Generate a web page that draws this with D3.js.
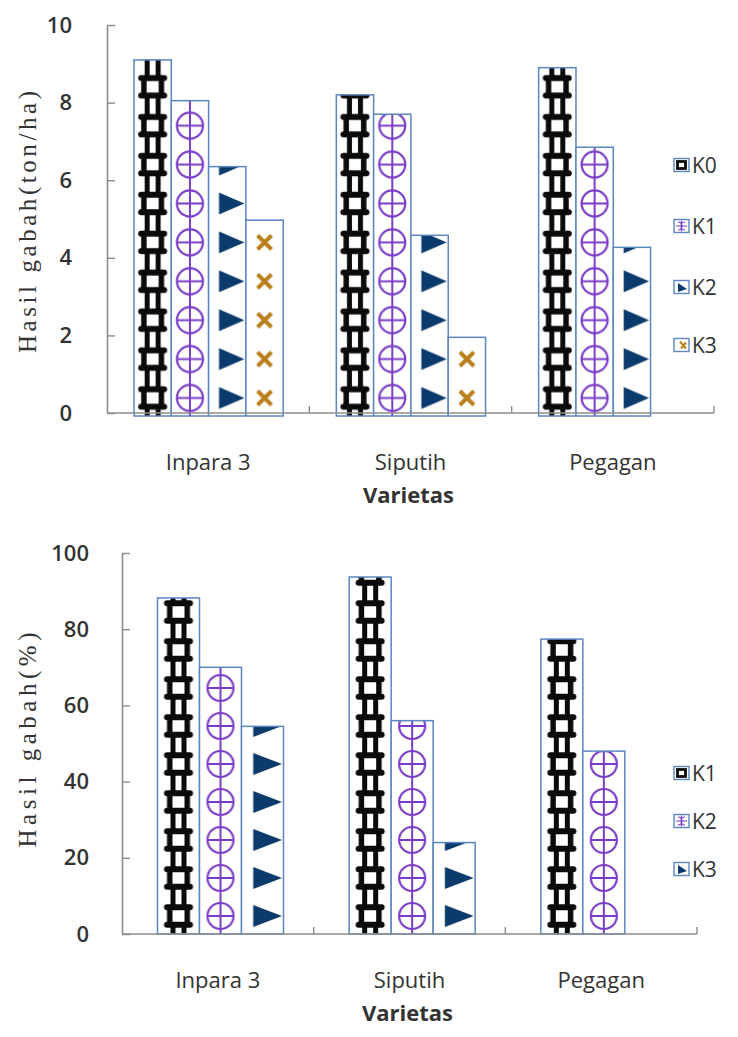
<!DOCTYPE html>
<html>
<head>
<meta charset="utf-8">
<script src="https://cdn.jsdelivr.net/npm/d3@7"></script>
<style>
  html, body { margin: 0; padding: 0; background: #ffffff; }
  svg { display: block; }
</style>
</head>
<body>
<svg id="chart" width="738" height="1037"></svg>
<script>
// Varieties on the x axis
const varietas = ["Inpara 3", "Siputih", "Pegagan"];

// Upper chart: grain yield (ton/ha) per treatment
const seriesTon = ["K0", "K1", "K2", "K3"];
const k0Ton = [9.1, 8.2, 8.9];
const k1Ton = [8.05, 7.7, 6.85];
const k2Ton = [6.35, 4.58, 4.27];
const k3Ton = [4.97, 1.95, null];
const ticksTon = [0, 2, 4, 6, 8, 10];

// Lower chart: grain yield (%) per treatment
const seriesPct = ["K1", "K2", "K3"];
const k1Pct = [88.2, 93.7, 77.4];
const k2Pct = [70.0, 56.0, 48.0];
const k3Pct = [54.5, 24.0, null];
const ticksPct = [0, 20, 40, 60, 80, 100];

const svg = d3.select("#chart");
const defs = svg.append("defs");

const COL = {
  black: "#0a0a0a",
  purple: "#7a3cc8",
  navy: "#0b3a6c",
  orange: "#b97f1c",
  barEdge: "#5b86c0",
  axis: "#8c8c8c",
  text: "#333333"
};

// ---- motif painters (draw one tile of width w, height h) ----
const motifs = {
  // chain of hollow black squares with knobbed corners
  ladder(g, w, h) {
    const cx = w / 2, cy = h / 2, s = 8.75;
    // short double link between consecutive squares
    [cx - 5.5, cx + 5.5].forEach(x => {
      g.append("line").attr("x1", x).attr("x2", x).attr("y1", cy + s).attr("y2", h + 1)
        .attr("stroke", COL.black).attr("stroke-width", 5);
      g.append("line").attr("x1", x).attr("x2", x).attr("y1", -1).attr("y2", cy - s)
        .attr("stroke", COL.black).attr("stroke-width", 5);
    });
    // square frame
    [cx - s, cx + s].forEach(x =>
      g.append("line").attr("x1", x).attr("x2", x).attr("y1", cy - s - 2).attr("y2", cy + s + 2)
        .attr("stroke", COL.black).attr("stroke-width", 5.5));
    [cy - s, cy + s].forEach(y =>
      g.append("line").attr("x1", cx - 11.5).attr("x2", cx + 11.5).attr("y1", y).attr("y2", y)
        .attr("stroke", COL.black).attr("stroke-width", 6).attr("stroke-linecap", "round"));
  },
  target(g, w, h) {
    const cx = w / 2, cy = h / 2, r = 13;
    g.append("line").attr("x1", cx).attr("x2", cx).attr("y1", 0).attr("y2", h)
      .attr("stroke", COL.purple).attr("stroke-width", 2);
    g.append("line").attr("x1", cx - r).attr("x2", cx + r).attr("y1", cy).attr("y2", cy)
      .attr("stroke", COL.purple).attr("stroke-width", 2);
    g.append("circle").attr("cx", cx).attr("cy", cy).attr("r", r)
      .attr("fill", "none").attr("stroke", COL.purple).attr("stroke-width", 2.2);
  },
  arrow(g, w, h) {
    const cy = h / 2;
    g.append("path")
      .attr("d", `M${w * 0.28},${cy - 11}L${w - 1.5},${cy}L${w * 0.28},${cy + 11}Z`)
      .attr("fill", COL.navy);
  },
  cross(g, w, h) {
    const cx = w / 2, cy = h / 2, s = 7;
    g.append("path")
      .attr("d", `M${cx - s},${cy - s}L${cx + s},${cy + s}M${cx + s},${cy - s}L${cx - s},${cy + s}`)
      .attr("stroke", COL.orange).attr("stroke-width", 4).attr("fill", "none");
  }
};

// small legend swatches
const swatches = {
  ladder(g) {
    g.append("rect").attr("x", 3.5).attr("y", 3).attr("width", 8).attr("height", 7)
      .attr("fill", "none").attr("stroke", COL.black).attr("stroke-width", 2.8);
  },
  target(g) {
    g.append("path").attr("d", "M4,2.5A3.5,3.5 0 0 1 4,10.5M11,2.5A3.5,3.5 0 0 0 11,10.5M7.5,1V12M2,6.5H13")
      .attr("fill", "none").attr("stroke", COL.purple).attr("stroke-width", 1.2);
  },
  arrow(g) {
    g.append("path").attr("d", "M4,2.5L13,8.5L4,11.5Z").attr("fill", COL.navy);
  },
  cross(g) {
    g.append("path").attr("d", "M6,3L12,10M12,4L7,10").attr("stroke", COL.orange)
      .attr("stroke-width", 2).attr("fill", "none");
  }
};

let patId = 0;

function drawChart(cfg) {
  const g = svg.append("g");
  const y = d3.scaleLinear().domain([0, cfg.yMax]).range([cfg.baseline, cfg.top]);
  const x0 = d3.scaleBand().domain(varietas).range([cfg.left, cfg.right]).padding(0);
  const x1 = d3.scaleBand().domain(cfg.keys)
    .range([cfg.innerStart, cfg.innerStart + cfg.keys.length * cfg.barW]).padding(0);

  // axes
  const yAxis = g.append("g").attr("transform", `translate(${cfg.left},0)`)
    .call(d3.axisLeft(y).tickValues(cfg.ticks).tickSize(-8).tickPadding(cfg.labelGap).tickSizeOuter(0));
  yAxis.select(".domain").attr("stroke", COL.axis).attr("stroke-width", 1.6);
  yAxis.selectAll(".tick line").attr("stroke", COL.axis).attr("stroke-width", 1.4);
  yAxis.selectAll(".tick text")
    .attr("fill", COL.text).attr("font-family", "'Open Sans', sans-serif")
    .attr("font-size", 22).attr("font-weight", 600);

  // bars
  cfg.keys.forEach((key, si) => {
    const values = cfg.values[si];
    varietas.forEach((v, ci) => {
      const val = values[ci];
      if (val === null || val === undefined) return;
      const bx = x0(v) + x1(key);
      const bw = x1.bandwidth();
      const top = y(val);
      const bottom = cfg.baseline + cfg.barDrop;
      const id = "pat" + (patId++);
      const pat = defs.append("pattern").attr("id", id)
        .attr("patternUnits", "userSpaceOnUse")
        .attr("x", bx).attr("y", cfg.baseline - cfg.motifLift + cfg.period / 2)
        .attr("width", bw).attr("height", cfg.period);
      motifs[cfg.motifs[si]](pat, bw, cfg.period);
      g.append("rect").attr("x", bx).attr("y", top).attr("width", bw).attr("height", bottom - top)
        .attr("fill", "#ffffff");
      g.append("rect").attr("x", bx).attr("y", top).attr("width", bw).attr("height", bottom - top)
        .attr("fill", `url(#${id})`)
        .attr("stroke", COL.barEdge).attr("stroke-width", 1.5);
    });
  });

  // x axis baseline with group divider ticks
  g.append("line").attr("x1", cfg.left).attr("x2", cfg.right)
    .attr("y1", cfg.baseline).attr("y2", cfg.baseline)
    .attr("stroke", COL.axis).attr("stroke-width", 1.6);
  g.selectAll(".div").data(varietas).enter().append("line")
    .attr("x1", d => x0(d) + x0.bandwidth()).attr("x2", d => x0(d) + x0.bandwidth())
    .attr("y1", cfg.baseline).attr("y2", cfg.baseline - 7)
    .attr("stroke", COL.axis).attr("stroke-width", 1.4);

  // category labels
  const xAxis = g.append("g").attr("transform", `translate(0,${cfg.baseline})`)
    .call(d3.axisBottom(x0).tickSize(0).tickPadding(0));
  xAxis.select(".domain").remove();
  xAxis.selectAll(".tick text")
    .attr("y", cfg.catY - cfg.baseline).attr("dy", 0)
    .attr("fill", COL.text).attr("font-family", "'Open Sans', sans-serif")
    .attr("font-size", 22);

  // axis titles
  g.append("text").attr("x", (cfg.left + cfg.right) / 2 - 2).attr("y", cfg.xTitleY)
    .attr("text-anchor", "middle").attr("fill", COL.text)
    .attr("font-family", "'Open Sans', sans-serif").attr("font-size", 22).attr("font-weight", 700)
    .text("Varietas");
  g.append("text")
    .attr("transform", `translate(${cfg.yTitleX},${cfg.yTitleY}) rotate(-90)`)
    .attr("text-anchor", "middle").attr("fill", COL.text)
    .attr("font-family", "'Liberation Serif', 'Times New Roman', serif").attr("font-size", 25)
    .attr("textLength", cfg.yTitleLen).attr("lengthAdjust", "spacing")
    .text(cfg.yTitle);

  // legend
  const lg = g.selectAll(".leg").data(cfg.keys).enter().append("g")
    .attr("transform", (d, i) => `translate(${cfg.legendX},${cfg.legendY[i]})`);
  lg.append("rect").attr("x", 0).attr("y", -6.5).attr("width", 15).attr("height", 13)
    .attr("fill", "#ffffff").attr("stroke", COL.barEdge).attr("stroke-width", 1.4);
  lg.each(function (d, i) {
    const sg = d3.select(this).append("g").attr("transform", "translate(0,-6.5)");
    swatches[cfg.motifs[i]](sg);
  });
  lg.append("text").attr("x", 18).attr("y", 7.5)
    .attr("fill", COL.text).attr("font-family", "'Open Sans', sans-serif").attr("font-size", 21)
    .text(d => d);
}

drawChart({
  keys: seriesTon,
  values: [k0Ton, k1Ton, k2Ton, k3Ton],
  motifs: ["ladder", "target", "arrow", "cross"],
  ticks: ticksTon, yMax: 10,
  left: 107, right: 714, top: 25, baseline: 413, barDrop: 3,
  innerStart: 27, barW: 37.3,
  period: 38.9, motifLift: 15,
  labelGap: 35,
  catY: 470, xTitleY: 503,
  yTitle: "Hasil gabah(ton/ha)", yTitleX: 36, yTitleY: 222, yTitleLen: 262,
  legendX: 674, legendY: [165, 226, 287, 345]
});

drawChart({
  keys: seriesPct,
  values: [k1Pct, k2Pct, k3Pct],
  motifs: ["ladder", "target", "arrow"],
  ticks: ticksPct, yMax: 100,
  left: 122, right: 697, top: 553, baseline: 934, barDrop: 0,
  innerStart: 35.5, barW: 42,
  period: 38, motifLift: 18,
  labelGap: 33,
  catY: 988, xTitleY: 1021,
  yTitle: "Hasil gabah(%)", yTitleX: 36, yTitleY: 740, yTitleLen: 215,
  legendX: 674, legendY: [773, 821, 869]
});
</script>
</body>
</html>
